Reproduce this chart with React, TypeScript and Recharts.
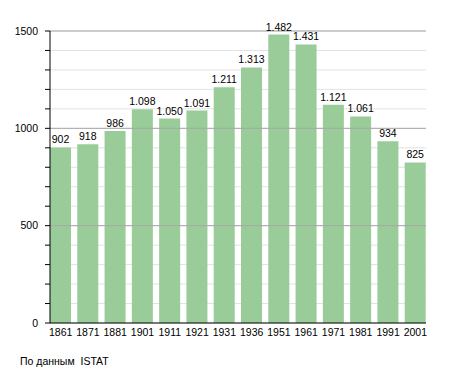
import { Bar, BarChart, CartesianGrid, LabelList, ReferenceLine, XAxis, YAxis } from 'recharts'

const years = ['1861', '1871', '1881', '1901', '1911', '1921', '1931', '1936', '1951', '1961', '1971', '1981', '1991', '2001']
const population = [902, 918, 986, 1098, 1050, 1091, 1211, 1313, 1482, 1431, 1121, 1061, 934, 825]
const yTicks = [0, 100, 200, 300, 400, 500, 600, 700, 800, 900, 1000, 1100, 1200, 1300, 1400, 1500]
const majorTicks = [500, 1000, 1500]
const source = 'По данным  ISTAT'

const data = years.map((year, i) => ({ year, value: population[i] }))

const font = '"Liberation Sans", Arial, sans-serif'
const fs = 10.5

// italian style thousands separator: 1098 -> 1.098
const fmt = (v: number) => (v >= 1000 ? `${Math.floor(v / 1000)}.${String(v % 1000).padStart(3, '0')}` : String(v))

function YTick({ x, y, payload }: { x?: number; y?: number; payload?: { value: number } }) {
  if (!payload || payload.value % 500 !== 0) return <g />
  return (
    <text x={x} y={y} dy="0.355em" textAnchor="end" fontSize={fs} fill="#000" fontFamily={font}>
      {payload.value}
    </text>
  )
}

export default function App() {
  return (
    <div style={{ position: 'absolute', left: 0, top: 0, width: 455, height: 373, background: '#fff' }}>
      <BarChart
        width={455}
        height={373}
        data={data}
        margin={{ top: 31, right: 29, left: 0, bottom: 0 }}
        style={{ fontFamily: font }}
      >
        <CartesianGrid horizontal vertical={false} stroke="#e2e2e2" />
        {majorTicks.map((t) => (
          <ReferenceLine key={t} y={t} stroke="#a8a8a8" />
        ))}
        <XAxis
          dataKey="year"
          height={50}
          padding={{ left: -3, right: -3 }}
          tickLine={false}
          tickSize={0}
          tickMargin={6}
          axisLine={{ stroke: '#000' }}
          tick={{ fontSize: fs, fill: '#000', fontFamily: font }}
          interval={0}
        />
        <YAxis
          width={50}
          domain={[0, 1500]}
          ticks={yTicks}
          interval={0}
          tickSize={5}
          tickMargin={7}
          tickLine={{ stroke: '#000' }}
          axisLine={{ stroke: '#000' }}
          tick={<YTick />}
        />
        <Bar dataKey="value" fill="#99cc99" barSize={21} isAnimationActive={false}>
          <LabelList
            dataKey="value"
            position="top"
            offset={4}
            formatter={(v: number) => fmt(v)}
            style={{ fontSize: fs, fill: '#000', fontFamily: font }}
          />
        </Bar>
      </BarChart>
      <div style={{ position: 'absolute', left: 20, top: 355, fontSize: fs, fontFamily: font, color: '#000', whiteSpace: 'pre' }}>
        {source}
      </div>
    </div>
  )
}
